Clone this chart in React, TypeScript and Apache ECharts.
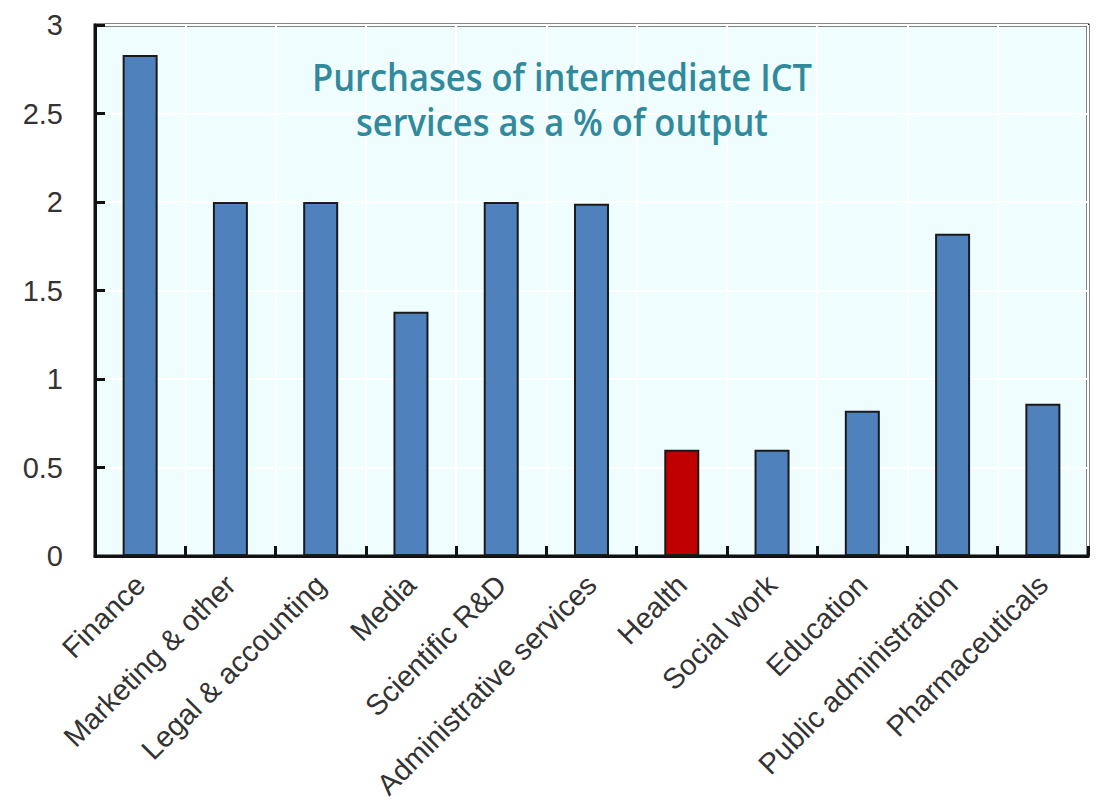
import React, { useEffect, useRef } from "react";
import * as echarts from "echarts";

const categories = [
  "Finance",
  "Marketing & other",
  "Legal & accounting",
  "Media",
  "Scientific R&D",
  "Administrative services",
  "Health",
  "Social work",
  "Education",
  "Public administration",
  "Pharmaceuticals",
];
const values = [2.83, 2.0, 2.0, 1.38, 2.0, 1.99, 0.6, 0.6, 0.82, 1.82, 0.86];
const highlight = "Health";
const titleLines = ["Purchases of intermediate ICT", "services as a % of output"];

export default function App() {
  const ref = useRef<HTMLDivElement>(null);
  useEffect(() => {
    if (!ref.current) return;
    const chart = echarts.init(ref.current, null, { renderer: "svg" });
    const titleFont = {
      fontFamily: "'Open Sans', 'Noto Sans', sans-serif",
      fontWeight: 600,
      fontSize: 34.5,
      fill: "#318a9c",
      align: "center",
      verticalAlign: "middle",
    };
    chart.setOption({
      animation: false,
      backgroundColor: "#ffffff",
      graphic: [
        {
          type: "text",
          x: 562,
          y: 76,
          scaleY: 1.1,
          z: 100,
          style: { ...titleFont, text: titleLines[0] },
        },
        {
          type: "text",
          x: 562,
          y: 121,
          scaleY: 1.1,
          z: 100,
          style: { ...titleFont, text: titleLines[1] },
        },
      ],
      grid: {
        left: 95,
        top: 25,
        right: 11,
        bottom: 254,
        show: true,
        backgroundColor: "#effdff",
        borderColor: "#111",
        borderWidth: 3,
      },
      xAxis: {
        type: "category",
        data: categories,
        boundaryGap: true,
        axisLine: { show: true, lineStyle: { color: "#111", width: 3 } },
        axisTick: {
          show: true,
          inside: true,
          length: 10,
          alignWithLabel: false,
          lineStyle: { color: "#111", width: 3 },
        },
        splitLine: { show: true, interval: 0, lineStyle: { color: "#ffffff", width: 2 } },
        axisLabel: {
          interval: 0,
          rotate: 45,
          margin: 24,
          fontFamily: "'Liberation Sans', Arial, sans-serif",
          fontSize: 29,
          color: "#333",
        },
      },
      yAxis: {
        type: "value",
        min: 0,
        max: 3,
        interval: 0.5,
        axisLine: { show: true, lineStyle: { color: "#111", width: 3 } },
        axisTick: { show: true, inside: true, length: 10, lineStyle: { color: "#111", width: 3 } },
        splitLine: { show: true, lineStyle: { color: "#ffffff", width: 2 } },
        axisLabel: {
          margin: 32,
          fontFamily: "'Liberation Sans', Arial, sans-serif",
          fontSize: 29,
          color: "#333",
        },
      },
      series: [
        {
          type: "bar",
          barWidth: 35,
          data: values.map((v, i) => ({
            value: v,
            itemStyle: {
              color: categories[i] === highlight ? "#c00000" : "#4f81bd",
              borderColor: "#1a1a1a",
              borderWidth: 2,
            },
          })),
        },
      ],
    });
    return () => chart.dispose();
  }, []);
  return (
    <div
      ref={ref}
      style={{ position: "fixed", left: 0, top: 0, width: 1099, height: 810 }}
    />
  );
}
